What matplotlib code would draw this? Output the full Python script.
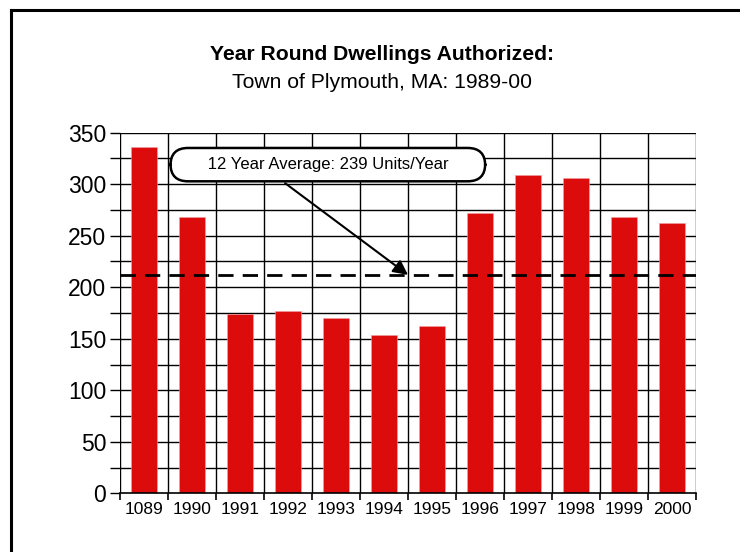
import matplotlib
matplotlib.use("Agg")
import matplotlib.pyplot as plt
from matplotlib.lines import Line2D
import numpy as np

years = ["1089", "1990", "1991", "1992", "1993", "1994", "1995",
         "1996", "1997", "1998", "1999", "2000"]
units = [336, 268, 174, 177, 170, 154, 162, 272, 309, 306, 268, 262]
avg_line = 212
y_ticks = [0, 50, 100, 150, 200, 250, 300, 350]
title_bold = "Year Round Dwellings Authorized:"
title_sub = "Town of Plymouth, MA: 1989-00"
note = "12 Year Average: 239 Units/Year"

FONT = ["Liberation Sans Narrow", "Liberation Sans", "DejaVu Sans"]
plt.rcParams["font.family"] = FONT

W, H = 740, 552
fig = plt.figure(figsize=(W / 100, H / 100), dpi=100)
fig.patch.set_facecolor("white")

# frame lines (top and left)
fig.add_artist(Line2D([11 / W, 11 / W], [0, 1 - 10 / H], transform=fig.transFigure,
                      color="black", lw=2.2))
fig.add_artist(Line2D([11 / W, 1], [1 - 10 / H, 1 - 10 / H], transform=fig.transFigure,
                      color="black", lw=2.2))

ax_l, ax_r, ax_t, ax_b = 120, 696, 132.7, 493.3
ax = fig.add_axes([ax_l / W, 1 - ax_b / H, (ax_r - ax_l) / W, (ax_b - ax_t) / H])

n = len(years)
x = np.arange(n)
ax.set_xlim(-0.5, n - 0.5)
ax.set_ylim(0, 350)

# grid
for yv in np.arange(25, 351, 25):
    ax.axhline(yv, color="black", lw=1.0, zorder=1)
for xb in np.arange(-0.5, n, 1.0):
    ax.axvline(xb, color="black", lw=1.0, zorder=1)

ax.bar(x, units, width=0.56, color="#DC0C0C", edgecolor="#F0A0A0", linewidth=0.4, zorder=2)

ax.axhline(avg_line, color="black", lw=2.0, dashes=(5.5, 3.3), zorder=3)

for s in ax.spines.values():
    s.set_visible(False)
ax.spines["bottom"].set_visible(True)
ax.spines["bottom"].set_linewidth(1.2)

ax.set_yticks(y_ticks)
ax.set_yticks(np.arange(0, 351, 25), minor=True)
ax.set_yticklabels([str(v) for v in y_ticks], fontsize=16.5)
ax.tick_params(axis="y", which="both", length=7, width=1.0, pad=3, left=True)

ax.set_xticks(np.arange(-0.5, n, 1.0), minor=True)
ax.set_xticks(x)
ax.set_xticklabels(years, fontsize=12.5)
ax.tick_params(axis="x", which="major", length=0, pad=6)
ax.tick_params(axis="x", which="minor", length=5, width=1.2)

# titles
fig.text(382 / W, 1 - 54 / H, title_bold, ha="center", va="center",
         fontsize=15.2, fontweight="bold")
fig.text(382 / W, 1 - 82 / H, title_sub, ha="center", va="center", fontsize=15.2)

# annotation
ax.annotate("", xy=(6.0 - 0.5, avg_line), xytext=(2.94, 301),
            arrowprops=dict(arrowstyle="-|>", mutation_scale=22, lw=1.5,
                            color="black", shrinkA=0, shrinkB=0), zorder=5)
ax.text(3.83, 319, "      " + note + "      ", ha="center", va="center", fontsize=12,
        bbox=dict(boxstyle="round,pad=0.55,rounding_size=1.05", fc="white",
                  ec="black", lw=1.8), zorder=6)

fig.savefig("out.png", dpi=100, facecolor="white")
